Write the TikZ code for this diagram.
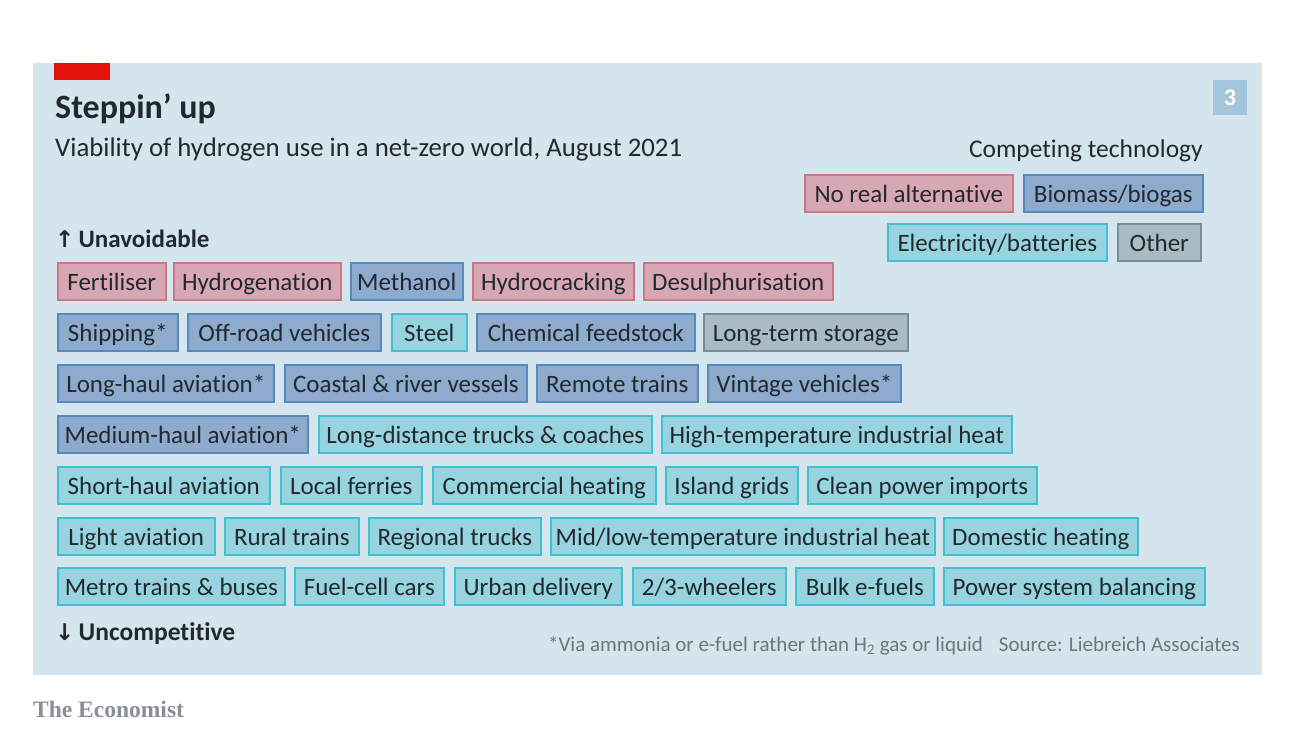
\documentclass[tikz,border=0pt]{standalone}
\usepackage{fontspec}
\setmainfont{Carlito}[Ligatures=NoCommon]
\newfontfamily\arrowfont{DejaVu Sans}
\newfontfamily\econfont{Liberation Serif}
\definecolor{bg}{HTML}{D5E5EE}
\definecolor{txt}{HTML}{22292E}
\definecolor{foot}{HTML}{6E767B}
\definecolor{redF}{HTML}{D7A8B3}
\definecolor{redD}{HTML}{CC7585}
\definecolor{bluF}{HTML}{8EAACC}
\definecolor{bluD}{HTML}{548ABE}
\definecolor{cyaF}{HTML}{97D4E0}
\definecolor{cyaD}{HTML}{40C0D2}
\definecolor{gryF}{HTML}{A9BCC6}
\definecolor{gryD}{HTML}{7A8C96}
\definecolor{numbox}{HTML}{A3C6DA}
\definecolor{econ}{HTML}{8A8F94}
\definecolor{ecored}{HTML}{E3120B}
\tikzset{
  tag/.style={anchor=west, inner sep=0pt, minimum height=37pt, line width=1.6pt,
    text height=17pt, text depth=0pt,
    font=\fontsize{25}{25}\selectfont, text=txt},
  tred/.style={tag, fill=redF, draw=redD},
  tblu/.style={tag, fill=bluF, draw=bluD},
  tcya/.style={tag, fill=cyaF, draw=cyaD},
  tgry/.style={tag, fill=gryF, draw=gryD},
  lbl/.style={inner sep=0pt, text=txt},
}
\begin{document}
\begin{tikzpicture}[x=1pt,y=-1pt]
\useasboundingbox (0,0) rectangle (1300,744);
\fill[white] (0,0) rectangle (1300,744);
\fill[bg] (33,63) rectangle (1262,675);
\fill[ecored] (54,63) rectangle (110,80);
\fill[numbox] (1213,80) rectangle (1247,115);
\node[inner sep=0pt, text=white, font=\fontsize{24}{24}\selectfont\bfseries] (num) at (1230,98) {3};
% titles
\node[lbl, anchor=base west, font=\fontsize{34}{34}\selectfont\bfseries] (title) at (55,118) {Steppin’ up};
\node[lbl, anchor=base west, font=\fontsize{26.8}{26.8}\selectfont] (sub) at (55,156) {Viability of hydrogen use in a net-zero world, August 2021};
\node[lbl, anchor=base east, font=\fontsize{25.5}{25.5}\selectfont] (comp) at (1203,157) {Competing technology};
% legend
\node[tred, minimum width=208pt] (lnr) at (804,193.5) {No real alternative};
\node[tblu, minimum width=179pt] (lbm) at (1023,193.5) {Biomass/biogas};
\node[tcya, minimum width=219pt] (lel) at (887,242.5) {Electricity/batteries};
\node[tgry, minimum width=83pt] (lot) at (1117,242.5) {Other};
% axis labels
\node[lbl, anchor=base west, font=\fontsize{25}{25}\selectfont\bfseries] (unav) at (55,247) {{\arrowfont\bfseries\fontsize{23}{23}\selectfont ↑}\,Unavoidable};
\node[lbl, anchor=base west, font=\fontsize{25.5}{25.5}\selectfont\bfseries] (unco) at (55,640) {{\arrowfont\bfseries\fontsize{23}{23}\selectfont ↓}\,Uncompetitive};
% row 1
\node[tred, minimum width=108pt] (a1) at (57,281.5) {Fertiliser};
\node[tred, minimum width=167pt] (a2) at (173,281.5) {Hydrogenation};
\node[tblu, minimum width=112pt] (a3) at (350,281.5) {Methanol};
\node[tred, minimum width=161pt] (a4) at (472,281.5) {Hydrocracking};
\node[tred, minimum width=189pt] (a5) at (643,281.5) {Desulphurisation};
% row 2
\node[tblu, minimum width=120pt] (b1) at (57,332.5) {Shipping*};
\node[tblu, minimum width=193pt] (b2) at (187,332.5) {Off-road vehicles};
\node[tcya, minimum width=75pt] (b3) at (391,332.5) {Steel};
\node[tblu, minimum width=218pt] (b4) at (476,332.5) {Chemical feedstock};
\node[tgry, minimum width=204pt] (b5) at (703,332.5) {Long-term storage};
% row 3
\node[tblu, minimum width=216pt] (c1) at (57,383.5) {Long-haul aviation*};
\node[tblu, minimum width=242pt] (c2) at (284,383.5) {Coastal \& river vessels};
\node[tblu, minimum width=161pt] (c3) at (536,383.5) {Remote trains};
\node[tblu, minimum width=193pt] (c4) at (707,383.5) {Vintage vehicles*};
% row 4
\node[tblu, minimum width=250pt] (d1) at (57,434.5) {Medium-haul aviation*};
\node[tcya, minimum width=333pt] (d2) at (318,434.5) {Long-distance trucks \& coaches};
\node[tcya, minimum width=350pt] (d3) at (661,434.5) {High-temperature industrial heat};
% row 5
\node[tcya, minimum width=212pt] (e1) at (57,485.5) {Short-haul aviation};
\node[tcya, minimum width=141pt] (e2) at (280,485.5) {Local ferries};
\node[tcya, minimum width=223pt] (e3) at (432,485.5) {Commercial heating};
\node[tcya, minimum width=132pt] (e4) at (665,485.5) {Island grids};
\node[tcya, minimum width=229pt] (e5) at (807,485.5) {Clean power imports};
% row 6
\node[tcya, minimum width=157pt] (f1) at (57,536.5) {Light aviation};
\node[tcya, minimum width=134pt] (f2) at (224,536.5) {Rural trains};
\node[tcya, minimum width=172pt] (f3) at (368,536.5) {Regional trucks};
\node[tcya, minimum width=384pt] (f4) at (550,536.5) {Mid/low-temperature industrial heat};
\node[tcya, minimum width=194pt] (f5) at (943,536.5) {Domestic heating};
% row 7
\node[tcya, minimum width=227pt] (g1) at (57,586.5) {Metro trains \& buses};
\node[tcya, minimum width=149pt] (g2) at (294,586.5) {Fuel-cell cars};
\node[tcya, minimum width=167pt] (g3) at (454,586.5) {Urban delivery};
\node[tcya, minimum width=153pt] (g4) at (632,586.5) {2/3-wheelers};
\node[tcya, minimum width=138pt] (g5) at (795,586.5) {Bulk e-fuels};
\node[tcya, minimum width=261pt] (g6) at (943,586.5) {Power system balancing};
% footnote
\node[lbl, anchor=base east, text=foot, font=\fontsize{21}{21}\selectfont] (fn) at (1240,651) {*Via ammonia or e-fuel rather than H\textsubscript{2} gas or liquid\hspace{16pt}Source: Liebreich Associates};
\node[lbl, anchor=base west, text=econ, font=\econfont\fontsize{23.5}{23.5}\selectfont\bfseries] (eco) at (33,717) {The Economist};
\end{tikzpicture}
\end{document}
